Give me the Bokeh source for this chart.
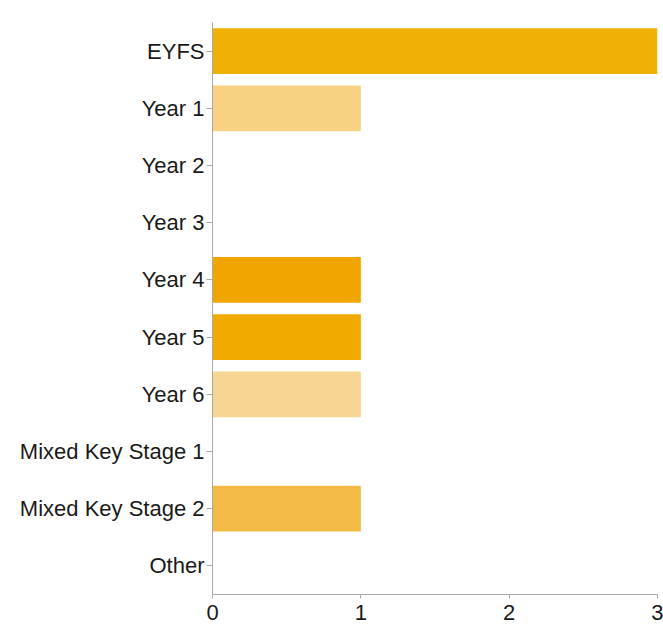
from bokeh.plotting import figure
from bokeh.models import ColumnDataSource, FactorRange, Range1d, FixedTicker, Label
from bokeh.embed import file_html
from bokeh.resources import INLINE

categories = ["EYFS", "Year 1", "Year 2", "Year 3", "Year 4", "Year 5", "Year 6",
              "Mixed Key Stage 1", "Mixed Key Stage 2", "Other"]
counts = [3, 1, 0, 0, 1, 1, 1, 0, 1, 0]
colors = ["#F0B005", "#F6D282", "#F0B005", "#F0B005", "#F0A500", "#F1AA00",
          "#F7D592", "#F0B005", "#F3BB45", "#F0B005"]
title_text = "What year group do you teach?"

src = ColumnDataSource(dict(cat=categories, val=counts, col=colors))

p = figure(width=663, height=625, output_backend="svg", toolbar_location=None,
           y_range=FactorRange(factors=list(reversed(categories))),
           x_range=Range1d(0, 3),
           min_border_left=212, min_border_right=6, min_border_top=22, min_border_bottom=31)

p.hbar(y="cat", right="val", left=0, height=0.8, fill_color="col", line_color=None, source=src)

p.xgrid.visible = False
p.ygrid.visible = False
p.outline_line_color = None
p.background_fill_color = "white"
p.border_fill_color = "white"

font = "Liberation Sans"
for ax in (p.xaxis[0], p.yaxis[0]):
    ax.axis_line_color = "#aaaaaa"
    ax.major_tick_line_color = "#aaaaaa"
    ax.minor_tick_line_color = None
    ax.major_label_text_font = font
    ax.major_label_text_font_size = "22px"
    ax.major_label_text_color = "#1a1a1a"

p.yaxis.major_tick_out = 6
p.yaxis.major_tick_in = 0
p.yaxis.major_label_standoff = 2
p.xaxis.major_tick_out = 4
p.xaxis.major_tick_in = 0
p.xaxis.major_label_standoff = 6
p.xaxis.ticker = FixedTicker(ticks=[0, 1, 2, 3])

title = Label(x=0, y=len(categories), x_offset=-200, y_offset=19, text=title_text,
              text_font=font, text_font_size="22px", text_font_style="bold",
              text_color="#1a1a1a", text_baseline="alphabetic")
p.add_layout(title)

open("out.html", "w").write(file_html(p, INLINE))
